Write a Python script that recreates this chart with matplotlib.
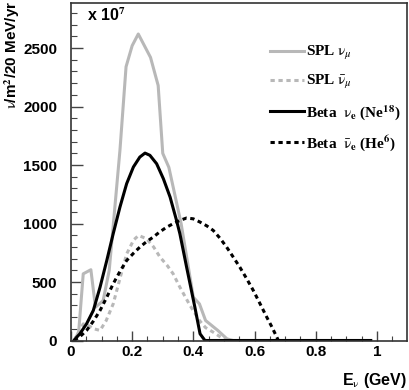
import matplotlib
matplotlib.use("Agg")
import matplotlib.pyplot as plt
from matplotlib.ticker import MultipleLocator

# SPL nu_mu
spl_nu_x = [0.0, 0.01, 0.025, 0.04, 0.065, 0.08, 0.105, 0.125, 0.16, 0.18, 0.20, 0.22,
            0.26, 0.285, 0.30, 0.32, 0.36, 0.40, 0.42, 0.44, 0.48, 0.51, 0.53, 0.98]
spl_nu_y = [0, 0, 70, 570, 605, 285, 340, 600, 1625, 2340, 2520, 2620,
            2420, 2180, 1600, 1480, 1000, 370, 313, 171, 86, 14, 0, 0]

# SPL anti nu_mu
spl_anu_x = [0.01, 0.04, 0.057, 0.075, 0.095, 0.115, 0.138, 0.16, 0.182, 0.205, 0.221,
             0.247, 0.27, 0.291, 0.315, 0.334, 0.356, 0.389, 0.42, 0.44, 0.465, 0.498, 0.51]
spl_anu_y = [0, 142, 128, 100, 86, 170, 313, 530, 740, 860, 898,
             870, 800, 713, 640, 570, 456, 300, 171, 110, 71, 14, 0]

# Beta nu_e (Ne18)
beta_nu_x = [0.01, 0.0186, 0.029, 0.051, 0.073, 0.095, 0.117, 0.138, 0.16, 0.182,
             0.204, 0.225, 0.242, 0.258, 0.28, 0.302, 0.324, 0.345, 0.356, 0.378,
             0.405, 0.422, 0.438, 0.98]
beta_nu_y = [0, 28, 57, 143, 257, 456, 684, 913, 1140, 1341,
             1483, 1568, 1602, 1583, 1511, 1383, 1226, 1027, 913, 627,
             285, 57, 0, 0]

# Beta anti nu_e (He6)
beta_anu_x = [0.01, 0.03, 0.051, 0.073, 0.095, 0.117, 0.138, 0.16, 0.182, 0.204, 0.225,
              0.247, 0.269, 0.291, 0.313, 0.335, 0.356, 0.378, 0.40, 0.422, 0.444, 0.465,
              0.487, 0.509, 0.53, 0.552, 0.574, 0.596, 0.618, 0.64, 0.656, 0.672, 0.678]
beta_anu_y = [0, 35, 86, 165, 257, 370, 485, 590, 684, 745, 798,
              845, 884, 930, 969, 1000, 1027, 1047, 1040, 1012, 980, 941,
              875, 798, 715, 627, 530, 428, 315, 200, 120, 34, 0]

plt.rcParams['mathtext.fontset'] = 'stix'

fig = plt.figure(figsize=(4.09, 3.90), dpi=100)
ax = fig.add_axes([71/409, 1-340.5/390, 335.5/409, 337.5/390])

gray = '#b8b8b8'
ax.plot(spl_nu_x, spl_nu_y, color=gray, lw=2.2, label=r'SPL $\mathrm{\nu}_\mu$')
ax.plot(spl_anu_x, spl_anu_y, color=gray, lw=2.2, ls=(0, (1.4, 1.2)),
        label=r'SPL $\bar{\mathrm{\nu}}_\mu$')
ax.plot(beta_nu_x, beta_nu_y, color='black', lw=2.2,
        label=r'Beta  $\mathrm{\nu}_\mathbf{e}$ (Ne$^{\mathbf{18}}$)')
ax.plot(beta_anu_x, beta_anu_y, color='black', lw=2.2, ls=(0, (1.4, 1.2)),
        label=r'Beta  $\bar{\mathrm{\nu}}_\mathbf{e}$ (He$^{\mathbf{6}}$)')

ax.set_xlim(0, 1.097)
ax.set_ylim(0, 2885)
ax.xaxis.set_minor_locator(MultipleLocator(0.05))
ax.yaxis.set_minor_locator(MultipleLocator(100))
ax.set_xticks([0, 0.2, 0.4, 0.6, 0.8, 1.0])
ax.set_xticklabels(['0', '0.2', '0.4', '0.6', '0.8', '1'])
ax.set_yticks([0, 500, 1000, 1500, 2000, 2500])
ax.tick_params(which='both', direction='in', colors='#444444', labelcolor='black',
               labelsize=11)
ax.tick_params(axis='y', which='major', length=8.4, width=1.0, pad=10)
ax.tick_params(axis='y', which='minor', length=4.5, width=0.8)
ax.tick_params(axis='x', which='major', length=7.5, width=1.0, pad=3)
ax.tick_params(axis='x', which='minor', length=3.5, width=0.8)
for lab in ax.get_xticklabels() + ax.get_yticklabels():
    lab.set_fontweight('bold')
    lab.set_family('Liberation Sans')
for sp in ax.spines.values():
    sp.set_color('#333333')
    sp.set_linewidth(1.2)

fig.text(0.031, 0.998, r'$\mathrm{\nu}$/m$^{\mathbf{2}}$/20 MeV/yr', rotation=90,
         ha='center', va='top', fontsize=11, fontweight='bold', family='Liberation Sans')
fig.text(87/409, 1-21/390, r'x 10$^{\mathbf{7}}$', ha='left', va='baseline',
         fontsize=11.5, fontweight='bold', family='Liberation Sans')
fig.text(407/409, 1-385/390, r'E$_\mathrm{\nu}$ (GeV)', ha='right', va='baseline',
         fontsize=11.5, fontweight='bold', family='Liberation Sans')

leg = ax.legend(loc='upper left', bbox_to_anchor=(270/409, 1-44/390),
                bbox_transform=fig.transFigure, frameon=False, borderpad=0,
                borderaxespad=0, handlelength=2.2, handletextpad=0.15,
                labelspacing=0.75, prop={'family': 'Liberation Serif',
                                         'weight': 'bold', 'size': 11})

fig.savefig('out.png', dpi=100)
